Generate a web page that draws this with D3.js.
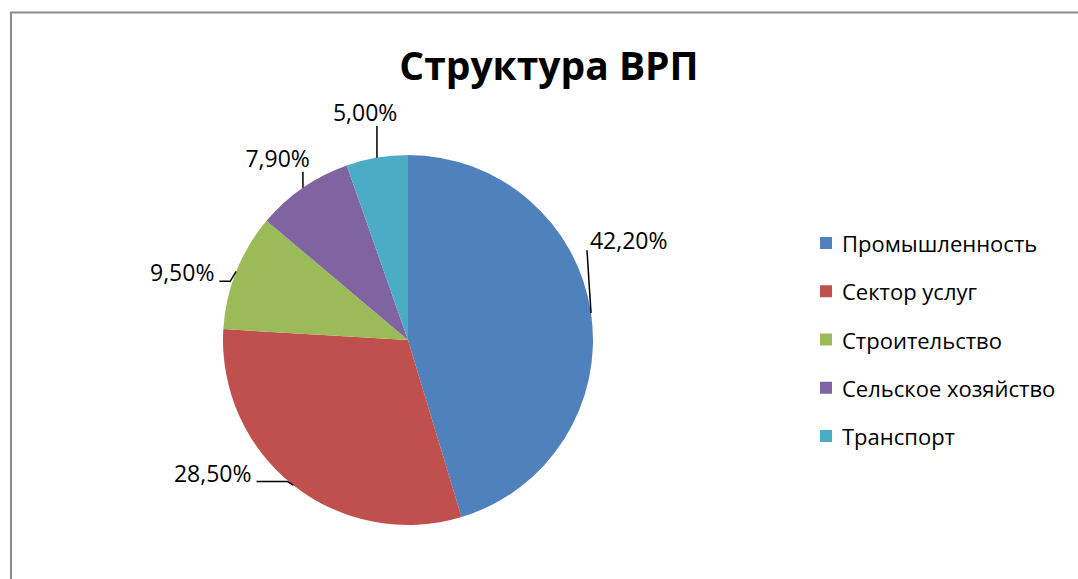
<!DOCTYPE html>
<html>
<head>
<meta charset="utf-8">
<script src="https://cdn.jsdelivr.net/npm/d3@7"></script>
<style>
  body { margin: 0; background: #fff; }
  svg { display: block; }
  text { font-family: "Open Sans", "Noto Sans", sans-serif; fill: #000; }
</style>
</head>
<body>
<div id="chart"></div>
<script>
// data
var sectors = ["Промышленность", "Сектор услуг", "Строительство", "Сельское хозяйство", "Транспорт"];
var shares = [42.2, 28.5, 9.5, 7.9, 5.0];
var colors = ["#4f81bd", "#c0504d", "#9bbb59", "#8064a2", "#4bacc6"];
var titleText = "Структура ВРП";

var width = 1078,
    height = 579,
    cx = 408,
    cy = 340,
    radius = 185;

// label nudges (px) relative to the polar spot, and how the leader attaches
var labelNudge = [[-8, -66, "bl"], [-52, -49, "right"], [-11, 18, "right"], [1, 8, "bottom"], [-4, 0, "bottom"]];

var svg = d3.select("#chart").append("svg")
    .attr("width", width)
    .attr("height", height);

// frame (only top + left edges visible)
svg.append("path")
    .attr("d", "M11," + height + "V12.5H" + width)
    .attr("fill", "none")
    .attr("stroke", "#8c8c8c")
    .attr("stroke-width", 2);

svg.append("text")
    .attr("x", 549)
    .attr("y", 80)
    .attr("text-anchor", "middle")
    .style("font-size", "39px")
    .style("font-weight", "bold")
    .text(titleText);

var pie = d3.pie().sort(null).value(function(d) { return d; });
var arcs = pie(shares);
var arc = d3.arc().innerRadius(0).outerRadius(radius);

var g = svg.append("g").attr("transform", "translate(" + cx + "," + cy + ")");

g.selectAll("path.slice")
    .data(arcs)
    .enter().append("path")
    .attr("class", "slice")
    .attr("d", arc)
    .attr("fill", function(d, i) { return colors[i]; });

function fmt(v) { return v.toFixed(2).replace(".", ",") + "%"; }

function polar(a, r) { return [Math.sin(a) * r, -Math.cos(a) * r]; }

arcs.forEach(function(d, i) {
    var mid = (d.startAngle + d.endAngle) / 2;
    var p0 = polar(mid, radius);
    var p = polar(mid, radius * 1.25);
    var nx = labelNudge[i][0], ny = labelNudge[i][1], mode = labelNudge[i][2];
    var lx = p[0] + nx, ly = p[1] + ny;

    var t = g.append("text")
        .attr("x", lx)
        .attr("y", ly)
        .attr("text-anchor", "middle")
        .attr("dominant-baseline", "central")
        .style("font-size", "23px")
        .text(fmt(shares[i]));

    var bb = t.node().getBBox();
    var pts;
    if (mode === "bottom") {
        pts = [[p0[0], bb.y + bb.height - 2], p0];
    } else if (mode === "right") {
        var yy = bb.y + bb.height - 7;
        pts = [[bb.x + bb.width + 5, yy], [p0[0] - 6, yy], p0];
    } else {
        pts = [[bb.x - 3, bb.y + bb.height - 6], p0];
    }
    g.append("path")
        .attr("d", d3.line()(pts))
        .attr("fill", "none")
        .attr("stroke", "#000")
        .attr("stroke-width", 1.5);
});

// legend
var legendY = d3.scalePoint().domain(sectors).range([243, 436]);

var lg = svg.append("g").selectAll("g")
    .data(sectors)
    .enter().append("g")
    .attr("transform", function(d) { return "translate(820," + legendY(d) + ")"; });

lg.append("rect")
    .attr("x", 0)
    .attr("y", -6)
    .attr("width", 12)
    .attr("height", 12)
    .attr("fill", function(d, i) { return colors[i]; });

lg.append("text")
    .attr("x", 22)
    .attr("y", 0)
    .attr("dominant-baseline", "central")
    .style("font-size", "22px")
    .text(function(d) { return d; });
</script>
</body>
</html>
